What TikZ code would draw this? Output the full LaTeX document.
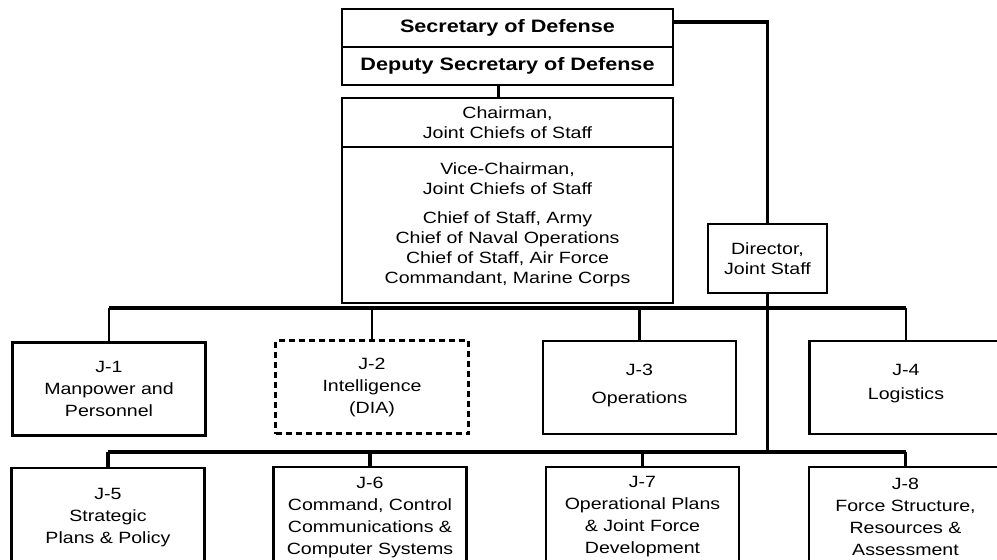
\documentclass[tikz,border=0pt]{standalone}
\usepackage{fontspec}
\setmainfont{Liberation Sans}[FakeStretch=1.2]
\usepackage{tikz}

\tikzset{
  head/.style={draw, line width=2.3pt, minimum width=331, minimum height=38, inner sep=0pt,
    font=\bfseries\fontsize{18}{20}\selectfont},
  chief/.style={draw, line width=2.3pt, minimum width=331, inner sep=0pt, align=center,
    font=\fontsize{16.3}{20}\selectfont},
  jbox/.style={draw, line width=2.3pt, minimum width=193, minimum height=93, inner sep=0pt,
    align=center, font=\fontsize{16.3}{22}\selectfont},
  link/.style={line width=2.6pt},
  bus/.style={line width=3.4pt}
}

\begin{document}
\begin{tikzpicture}[x=1pt,y=-1pt]
    \useasboundingbox (0,0) rectangle (997,560);
    \clip (0,0) rectangle (997,560);

    % Office of the Secretary
    \node[head] (secdef) at (507.5,28) {Secretary of Defense};
    \node[head] (depsec) at (507.5,66) {Deputy Secretary of Defense};

    % Joint Chiefs
    \node[chief, minimum height=49] (cjcs) at (507.5,122.5) {Chairman,\\Joint Chiefs of Staff};
    \node[chief, minimum height=156] (jcs) at (507.5,225) {Vice-Chairman,\\Joint Chiefs of Staff\\[9pt]
      Chief of Staff, Army\\Chief of Naval Operations\\Chief of Staff, Air Force\\Commandant, Marine Corps};
    \node[chief, minimum width=119, minimum height=69] (dirjs) at (767.5,258.5) {Director,\\Joint Staff};

    % Directorates, first row
    \node[jbox] (j1) at (109,389) {J-1\\Manpower and\\Personnel};
    \node[jbox, dash pattern=on 6pt off 4pt] (j2) at (372,387) {J-2\\Intelligence\\(DIA)};
    \node[jbox] (j3) at (639.5,387.5) {J-3\\[6pt]Operations\\[-14pt]};
    \node[jbox] (j4) at (906,387.5) {J-4\\[2pt]Logistics\\[-10pt]};

    % Directorates, second row
    \node[jbox, minimum height=100] (j5) at (108,518) {J-5\\Strategic\\Plans \& Policy};
    \node[jbox, minimum height=100] (j6) at (370,517) {J-6\\Command, Control\\Communications \&\\Computer Systems};
    \node[jbox, minimum height=100] (j7) at (642.5,517) {J-7\\Operational Plans\\\& Joint Force\\Development};
    \node[jbox, minimum height=100] (j8) at (905.5,517) {J-8\\Force Structure,\\Resources \&\\Assessment};

    % Lines of authority
    \coordinate (topbus) at (767.5,308);
    \coordinate (lowbus) at (767.5,452);
    \draw[link] ([xshift=-9pt]depsec.south) -- ([xshift=-9pt]cjcs.north);
    \draw[bus] ([yshift=6pt]secdef.east) -| (dirjs.north);
    \draw[bus] (dirjs.south) -- (lowbus);

    \draw[bus] (j1.north |- topbus) -- (j4.north |- topbus);
    \foreach \j in {j1,j2,j3,j4}
      \draw[link] (\j.north |- topbus) -- (\j.north);

    \draw[bus] (j5.north |- lowbus) -- (j8.north |- lowbus);
    \foreach \j in {j5,j6,j7,j8}
      \draw[bus] (\j.north |- lowbus) -- (\j.north);
\end{tikzpicture}
\end{document}
